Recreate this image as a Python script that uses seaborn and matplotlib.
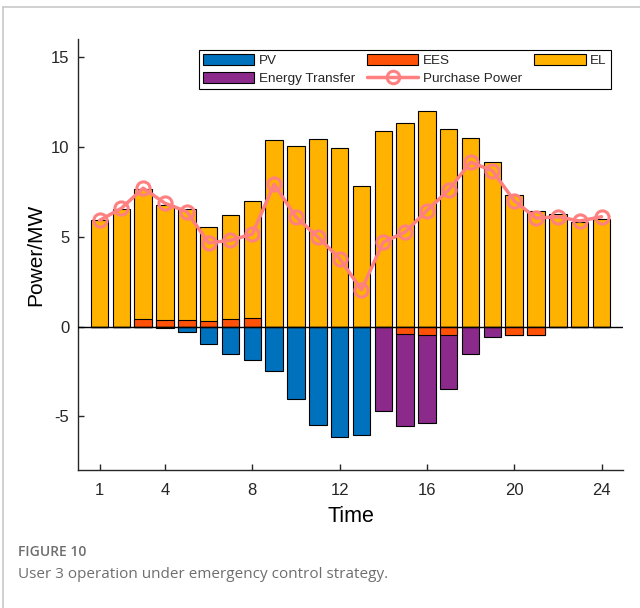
import numpy as np
import pandas as pd
import matplotlib
matplotlib.use("Agg")
import matplotlib.pyplot as plt
from matplotlib.patches import Patch
from matplotlib.lines import Line2D
import seaborn as sns

# ---- data ----
hours = list(range(1, 25))
pv = [0, 0, 0, -0.05, -0.28, -0.97, -1.53, -1.88, -2.48, -4.05, -5.49, -6.16,
      -6.04, 0, 0, 0, 0, 0, 0, 0, 0, 0, 0, 0]
ees = [0, 0, 0.43, 0.37, 0.37, 0.32, 0.43, 0.50, 0, 0, 0, 0,
       0, 0, -0.41, -0.47, -0.45, 0, 0, -0.45, -0.45, -0.04, 0, 0]
el = [5.91, 6.53, 7.26, 6.38, 6.20, 5.24, 5.76, 6.48, 10.37, 10.04, 10.45, 9.94,
      7.82, 10.90, 11.34, 12.01, 11.01, 10.50, 9.16, 7.35, 6.46, 6.29, 5.80, 5.97]
energy_transfer = [0, 0, 0, 0, 0, 0, 0, 0, 0, 0, 0, 0,
                   0, -4.70, -5.15, -4.91, -3.02, -1.51, -0.56, 0, 0, 0, 0, 0]
purchase = [5.91, 6.59, 7.71, 6.87, 6.40, 4.66, 4.81, 5.15, 7.93, 6.10, 5.00, 3.79,
            2.05, 4.70, 5.26, 6.46, 7.61, 9.16, 8.68, 7.01, 6.04, 6.12, 5.88, 6.12]
x_ticks = [1, 4, 8, 12, 16, 20, 24]
y_ticks = [-5, 0, 5, 10, 15]

c_pv = "#0072BD"
c_ees = "#FF5208"
c_el = "#FFB300"
c_et = "#8C2A8C"
c_pp = "#FF8080"

df = pd.DataFrame({"hour": hours, "pv": pv, "ees": ees, "el": el,
                   "et": energy_transfer, "pp": purchase})
ees_pos = df["ees"].clip(lower=0)
ees_neg = df["ees"].clip(upper=0)
df["pos_top"] = df["el"] + ees_pos
df["ees_pos"] = ees_pos
df["neg_bottom"] = ees_neg + df["et"]
df["ees_neg"] = ees_neg

sns.set_style("ticks")
plt.rcParams["font.family"] = ["Liberation Sans", "DejaVu Sans"]

fig = plt.figure(figsize=(6.4, 6.08), dpi=100)
ax = fig.add_axes([0.1214, 0.2265, 0.974 - 0.1214, 0.9354 - 0.2265])

bar_kw = dict(native_scale=True, width=0.8, edgecolor="black", linewidth=0.8,
              saturation=1, errorbar=None, ax=ax)
sns.barplot(data=df, x="hour", y="pos_top", color=c_el, **bar_kw)
sns.barplot(data=df, x="hour", y="ees_pos", color=c_ees, **bar_kw)
sns.barplot(data=df, x="hour", y="pv", color=c_pv, **bar_kw)
sns.barplot(data=df, x="hour", y="neg_bottom", color=c_et, **bar_kw)
sns.barplot(data=df, x="hour", y="ees_neg", color=c_ees, **bar_kw)

ax.axhline(0, color="black", lw=1.0, zorder=3)

sns.lineplot(data=df, x="hour", y="pp", color=c_pp, lw=2.5, marker="o",
             markersize=9.5, markerfacecolor="none", markeredgecolor=c_pp,
             markeredgewidth=2.2, ax=ax, zorder=5)

ax.set_xlim(0, 25)
ax.set_ylim(-8, 16)
ax.set_xticks(x_ticks)
ax.set_xticklabels([str(t) for t in x_ticks])
ax.set_yticks(y_ticks)
ax.set_yticklabels([str(t) for t in y_ticks])
ax.tick_params(direction="in", length=4, width=1, labelsize=12, pad=6,
               colors="#262626", labelcolor="#262626")
ax.tick_params(axis="x", pad=9)
for s in ["top", "right"]:
    ax.spines[s].set_visible(False)
for s in ["left", "bottom"]:
    ax.spines[s].set_color("#262626")
    ax.spines[s].set_linewidth(1.0)
ax.set_xlabel("Time", fontsize=15.5, color="black", labelpad=6)
ax.set_ylabel("Power/MW", fontsize=15, color="black", labelpad=4)

handles = [
    Patch(facecolor=c_pv, edgecolor="black", lw=0.8, label="PV"),
    Patch(facecolor=c_et, edgecolor="black", lw=0.8, label="Energy Transfer"),
    Patch(facecolor=c_ees, edgecolor="black", lw=0.8, label="EES"),
    Line2D([0], [0], color=c_pp, lw=2.5, marker="o", markersize=9,
           markerfacecolor="none", markeredgewidth=2.2, label="Purchase Power"),
    Patch(facecolor=c_el, edgecolor="black", lw=0.8, label="EL"),
]
leg = ax.legend(handles=handles, ncol=3, loc="upper right",
                bbox_to_anchor=(0.977, 0.976), frameon=True, fancybox=False,
                edgecolor="black", framealpha=1, fontsize=9.7,
                handlelength=3.8, handleheight=0.95, columnspacing=0.9,
                handletextpad=0.35, borderpad=0.3, labelspacing=0.35,
                borderaxespad=0)
leg.get_frame().set_linewidth(0.8)

# card border and caption
fig.add_artist(Line2D([3 / 640, 3 / 640], [0, 1 - 7 / 608], color="#c8c8c8",
                      lw=1.2, transform=fig.transFigure))
fig.add_artist(Line2D([3 / 640, 1], [1 - 7 / 608, 1 - 7 / 608], color="#c8c8c8",
                      lw=1.2, transform=fig.transFigure))
fig.text(18 / 640, 1 - 552 / 608, "FIGURE 10", fontsize=10, color="#6e6e6e",
         fontweight="semibold", family=["Open Sans", "DejaVu Sans"], va="center")
fig.text(18 / 640, 1 - 574 / 608, "User 3 operation under emergency control strategy.",
         fontsize=11, color="#6e6e6e", family=["Open Sans", "DejaVu Sans"],
         va="center")

fig.savefig("out.png", dpi=100)
